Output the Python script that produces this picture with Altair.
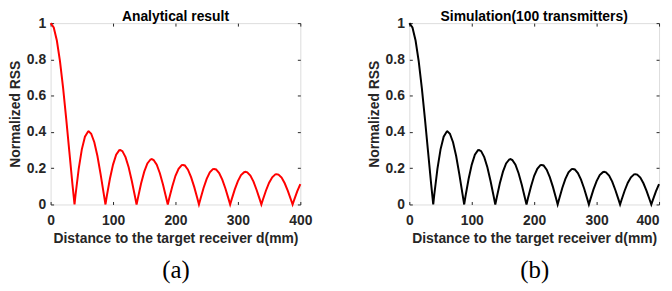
import altair as alt
import pandas as pd

# Distance to the target receiver (mm)
distance_mm = [0, 5, 10, 15, 20, 25, 30, 35, 38.3,
               40, 45, 50, 55, 60, 61, 65, 70, 75, 80, 85, 87.9,
               90, 95, 100, 105, 110, 111.7, 115, 120, 125, 130, 135, 137.7,
               140, 145, 150, 155, 160, 162, 165, 170, 175, 180, 185, 187.7,
               190, 195, 200, 205, 210, 212, 215, 220, 225, 230, 235, 237.6,
               240, 245, 250, 255, 260, 262, 265, 270, 275, 280, 285, 287.6,
               290, 295, 300, 305, 310, 312, 315, 320, 325, 330, 335, 337.6,
               340, 345, 350, 355, 360, 362, 365, 370, 375, 380, 385, 387.6,
               390, 395, 400]

analytical_rss = [1.0, 0.976, 0.904, 0.790, 0.643, 0.472, 0.291, 0.111, 0.0,
                  0.055, 0.196, 0.304, 0.374, 0.402, 0.403, 0.390, 0.343, 0.267, 0.169, 0.061, 0.0,
                  0.046, 0.142, 0.220, 0.274, 0.299, 0.300, 0.294, 0.261, 0.205, 0.131, 0.047, 0.0,
                  0.038, 0.117, 0.181, 0.226, 0.248, 0.250, 0.245, 0.219, 0.172, 0.110, 0.039, 0.0,
                  0.034, 0.101, 0.158, 0.197, 0.217, 0.218, 0.215, 0.192, 0.151, 0.097, 0.034, 0.0,
                  0.030, 0.091, 0.141, 0.177, 0.195, 0.196, 0.193, 0.173, 0.137, 0.088, 0.031, 0.0,
                  0.028, 0.083, 0.129, 0.162, 0.178, 0.180, 0.177, 0.159, 0.126, 0.080, 0.028, 0.0,
                  0.026, 0.077, 0.120, 0.150, 0.166, 0.167, 0.165, 0.148, 0.117, 0.075, 0.026, 0.0,
                  0.024, 0.072, 0.112]

simulated_rss = [1.0, 0.976, 0.904, 0.790, 0.643, 0.472, 0.291, 0.111, 0.0,
                 0.055, 0.196, 0.304, 0.374, 0.402, 0.403, 0.390, 0.343, 0.267, 0.169, 0.061, 0.0,
                 0.046, 0.142, 0.220, 0.274, 0.299, 0.300, 0.294, 0.261, 0.205, 0.131, 0.047, 0.0,
                 0.038, 0.117, 0.181, 0.226, 0.248, 0.250, 0.245, 0.219, 0.172, 0.110, 0.039, 0.0,
                 0.034, 0.101, 0.158, 0.197, 0.217, 0.218, 0.215, 0.192, 0.151, 0.097, 0.034, 0.0,
                 0.030, 0.091, 0.141, 0.177, 0.195, 0.196, 0.193, 0.173, 0.137, 0.088, 0.031, 0.0,
                 0.028, 0.083, 0.129, 0.162, 0.178, 0.180, 0.177, 0.159, 0.126, 0.080, 0.028, 0.0,
                 0.026, 0.077, 0.120, 0.150, 0.166, 0.167, 0.165, 0.148, 0.117, 0.075, 0.026, 0.0,
                 0.024, 0.072, 0.112]

x_ticks = [0, 100, 200, 300, 400]
y_ticks = [0, 0.2, 0.4, 0.6, 0.8, 1]

panel_titles = ["Analytical result", "Simulation(100 transmitters)"]
panel_tags = ["(a)", "(b)"]
panel_colors = ["#ff0000", "#000000"]

x_title = "Distance to the target receiver d(mm)"
y_title = "Normalized RSS"

SANS = "Liberation Sans"
SERIF = "Liberation Serif"
AXC = "#262626"
W, H = 252, 183
TICK = 3
FS = 14


def panel(values, title, tag, color, flush_last):
    df = pd.DataFrame({"d": distance_mm, "rss": values})
    xs = alt.Scale(domain=[0, 400], nice=False, zero=False)
    ys = alt.Scale(domain=[0, 1], nice=False)
    base = alt.Chart(df)

    if flush_last:
        label_align = {"condition": {"test": "datum.value >= 400", "value": "right"},
                       "value": "center"}
    else:
        label_align = "center"

    main = base.mark_line(color=color, strokeWidth=2).encode(
        x=alt.X("d:Q", scale=xs, title=x_title,
                axis=alt.Axis(orient="bottom", values=x_ticks, ticks=False, domain=False,
                              grid=False, labelFlush=False, labelOverlap=False,
                              labelAlign=label_align,
                              labelFont=SANS, labelFontWeight="bold", labelFontSize=FS,
                              labelColor=AXC, labelPadding=9,
                              titleFont=SANS, titleFontWeight="bold", titleFontSize=FS,
                              titleColor=AXC, titlePadding=4)),
        y=alt.Y("rss:Q", scale=ys, title=y_title,
                axis=alt.Axis(orient="left", values=y_ticks, format="~g", ticks=False,
                              domain=False, grid=False, labelOverlap=False,
                              labelFont=SANS, labelFontWeight="bold", labelFontSize=FS,
                              labelColor=AXC, labelPadding=5,
                              titleFont=SANS, titleFontWeight="bold", titleFontSize=FS,
                              titleColor=AXC, titlePadding=3.5)),
    )

    def tick_axis(orient, vals):
        return alt.Axis(orient=orient, values=vals, labels=False, ticks=True,
                        tickSize=TICK, tickColor=AXC, tickWidth=1, domain=False,
                        grid=False, offset=-TICK, minExtent=0, labelPadding=0,
                        titlePadding=0)

    ticks_a = base.mark_line(opacity=0).encode(
        x=alt.X("d:Q", scale=xs, title=None, axis=tick_axis("bottom", x_ticks)),
        y=alt.Y("rss:Q", scale=ys, title=None, axis=tick_axis("left", y_ticks)),
    )
    ticks_b = base.mark_line(opacity=0).encode(
        x=alt.X("d:Q", scale=xs, title=None, axis=tick_axis("top", x_ticks)),
        y=alt.Y("rss:Q", scale=ys, title=None, axis=tick_axis("right", y_ticks)),
    )
    tag_layer = base.mark_line(opacity=0).encode(
        x=alt.X("d:Q", scale=xs, title=tag,
                axis=alt.Axis(orient="bottom", labels=False, ticks=False, domain=False,
                              grid=False, minExtent=0, titleFont=SERIF,
                              titleFontWeight="normal", titleFontSize=25,
                              titleColor="#000000", titlePadding=54)),
    )

    return alt.layer(main, ticks_a, ticks_b, tag_layer).resolve_axis(
        x="independent", y="independent"
    ).properties(
        width=W, height=H,
        title=alt.TitleParams(title, font=SANS, fontWeight="bold", fontSize=FS,
                              color="#000000", offset=-8, frame="group"),
    )


chart = alt.hconcat(
    panel(analytical_rss, panel_titles[0], panel_tags[0], panel_colors[0], False),
    panel(simulated_rss, panel_titles[1], panel_tags[1], panel_colors[1], True),
    spacing=54,
).properties(
    padding={"left": 0, "top": 0, "right": 0, "bottom": 0},
).configure_view(
    stroke=AXC, strokeWidth=1
).configure(background="white")

chart.save("out.html", embed_options={"renderer": "svg", "actions": False})
